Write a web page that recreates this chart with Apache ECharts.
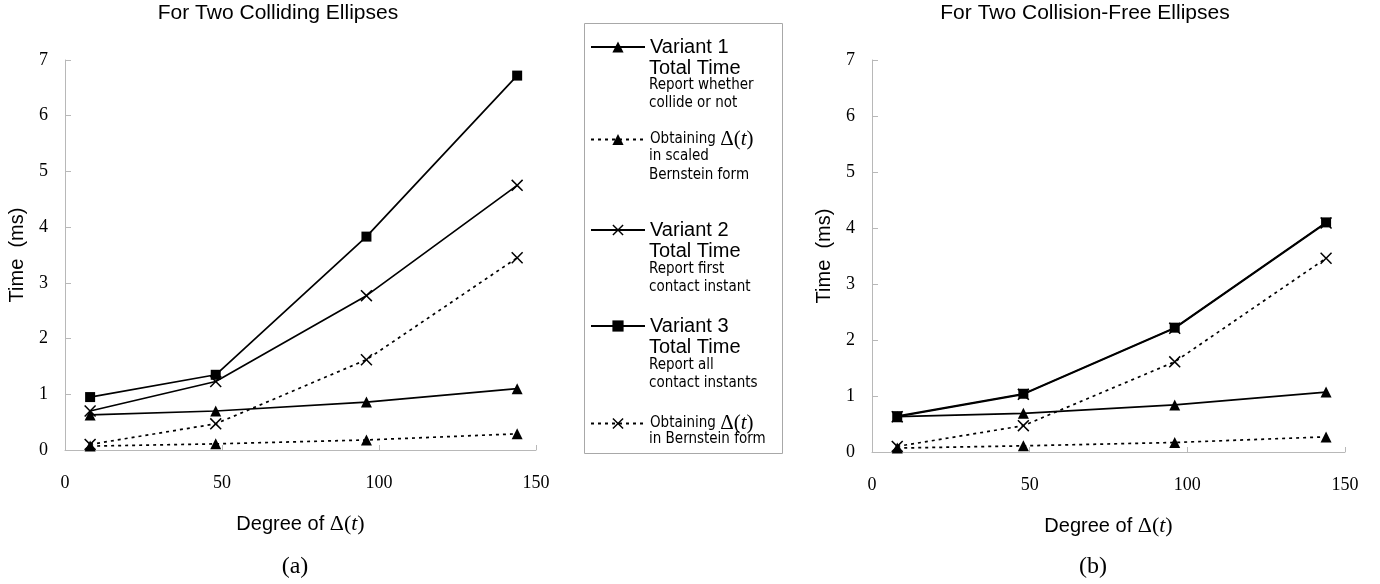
<!DOCTYPE html>
<html>
<head>
<meta charset="utf-8">
<script src="https://cdn.jsdelivr.net/npm/echarts@6/dist/echarts.min.js"></script>
<style>
html,body{margin:0;padding:0;background:#fff;}
#main{width:1380px;height:584px;}
</style>
</head>
<body>
<div id="main"></div>
<script>
// ---- data ----
const degrees = [8, 48, 96, 144];
const xTicks = [0, 50, 100, 150];
const yTicks = [0, 1, 2, 3, 4, 5, 6, 7];

// (a) colliding ellipses
const v1TotalA  = [0.63, 0.70, 0.86, 1.10];
const v1ScaledA = [0.07, 0.11, 0.18, 0.29];
const v2TotalA  = [0.70, 1.23, 2.77, 4.75];
const v3TotalA  = [0.95, 1.35, 3.83, 6.72];
const v2BernA   = [0.10, 0.47, 1.62, 3.45];

// (b) collision-free ellipses
const v1TotalB  = [0.63, 0.69, 0.84, 1.07];
const v1ScaledB = [0.07, 0.11, 0.17, 0.27];
const v2TotalB  = [0.63, 1.03, 2.21, 4.09];
const v3TotalB  = [0.64, 1.04, 2.22, 4.10];
const v2BernB   = [0.10, 0.47, 1.61, 3.46];

const seriesNames = [
  'Variant 1 Total Time',
  'Obtaining Δ(t) in scaled Bernstein form',
  'Variant 2 Total Time',
  'Variant 3 Total Time',
  'Obtaining Δ(t) in Bernstein form'
];
const legendFirstLines = {
  'Variant 1 Total Time': '{a|Variant 1}',
  'Obtaining Δ(t) in scaled Bernstein form': '{b|Obtaining }{d|Δ(}{t|t}{d|)}',
  'Variant 2 Total Time': '{a|Variant 2}',
  'Variant 3 Total Time': '{a|Variant 3}',
  'Obtaining Δ(t) in Bernstein form': '{b|Obtaining }{d|Δ(}{t|t}{d|)}'
};

// ---- styles ----
const SANS = "'Liberation Sans', Arial, Helvetica, sans-serif";
const NARROW = "'Liberation Sans Narrow', 'Arial Narrow', 'DejaVu Sans Condensed', sans-serif";
const SERIF = "'Liberation Serif', 'Times New Roman', serif";
const X_PATH = 'path://M0 9 L9 0 L50 41 L91 0 L100 9 L59 50 L100 91 L91 100 L50 59 L9 100 L0 91 L41 50 Z';

const markerDefs = [
  {symbol: 'triangle', size: 11, dash: 'solid'},
  {symbol: 'triangle', size: 11, dash: [3, 4]},
  {symbol: X_PATH, size: 12, dash: 'solid'},
  {symbol: 'rect', size: 10, dash: 'solid'},
  {symbol: X_PATH, size: 12, dash: [3, 4]}
];

function mkSeries(gridIdx, arrays) {
  return arrays.map((arr, i) => ({
    type: 'line',
    name: seriesNames[i],
    xAxisIndex: gridIdx,
    yAxisIndex: gridIdx,
    data: degrees.map((d, k) => [d, arr[k]]),
    symbol: markerDefs[i].symbol,
    symbolSize: markerDefs[i].size,
    showAllSymbol: true,
    lineStyle: {color: '#000', width: 1.7, type: markerDefs[i].dash},
    itemStyle: {color: '#000', borderWidth: 0},
    emphasis: {disabled: true},
    z: 2 + i
  }));
}

const mathRich = {
  a: {fontFamily: SANS, fontSize: 20, color: '#000', lineHeight: 24},
  d: {fontFamily: SERIF, fontSize: 22, color: '#000', lineHeight: 24},
  t: {fontFamily: SERIF, fontSize: 22, fontStyle: 'italic', color: '#000', lineHeight: 24}
};

function mkXAxis(gridIdx) {
  return {
    type: 'value', gridIndex: gridIdx, min: 0, max: 150, interval: 50,
    axisLine: {show: true, lineStyle: {color: '#b8b8b8', width: 1}},
    axisTick: {show: true, inside: true, length: 5, lineStyle: {color: '#b8b8b8'}},
    splitLine: {show: false},
    axisLabel: {fontFamily: SERIF, fontSize: 18, color: '#000', margin: 24,
      formatter: v => xTicks.includes(v) ? String(v) : ''},
    name: '{a|Degree of }{d|Δ(}{t|t}{d|)}',
    nameLocation: 'middle', nameGap: 62,
    nameTextStyle: {rich: mathRich}
  };
}
function mkYAxis(gridIdx) {
  return {
    type: 'value', gridIndex: gridIdx, min: 0, max: 7, interval: 1,
    axisLine: {show: true, lineStyle: {color: '#b8b8b8', width: 1}},
    axisTick: {show: true, inside: true, length: 6, lineStyle: {color: '#b8b8b8'}},
    splitLine: {show: false},
    axisLabel: {fontFamily: SERIF, fontSize: 18, color: '#000', margin: 17,
      formatter: v => yTicks.includes(v) ? String(v) : ''},
    name: 'Time  (ms)',
    nameLocation: 'middle', nameGap: 38,
    nameTextStyle: {fontFamily: SANS, fontSize: 20, color: '#000'}
  };
}

const legendTops = [37, 129, 220, 316, 413];
const legends = seriesNames.map((n, i) => ({
  data: [n],
  left: 590, top: legendTops[i],
  padding: 0,
  orient: 'vertical',
  itemWidth: 54, itemHeight: 14,
  selectedMode: false,
  formatter: name => legendFirstLines[name],
  textStyle: {
    rich: {
      a: {fontFamily: SANS, fontSize: 20, color: '#000', lineHeight: 22},
      b: {fontFamily: NARROW, fontSize: 15, color: '#000', lineHeight: 22},
      d: {fontFamily: SERIF, fontSize: 21, color: '#000', lineHeight: 22},
      t: {fontFamily: SERIF, fontSize: 21, fontStyle: 'italic', color: '#000', lineHeight: 22}
    }
  }
}));

const subLines = [
  ['Total Time', 68, 'big'], ['Report whether', 87, 'small'], ['collide or not', 105, 'small'],
  ['in scaled', 158, 'small'], ['Bernstein form', 177, 'small'],
  ['Total Time', 251, 'big'], ['Report first', 271, 'small'], ['contact instant', 289, 'small'],
  ['Total Time', 347, 'big'], ['Report all', 367, 'small'], ['contact instants', 385, 'small'],
  ['in Bernstein form', 441, 'small']
];

const graphics = [
  {type: 'rect', shape: {x: 584.5, y: 23.5, width: 198, height: 430},
   style: {fill: 'none', stroke: '#a8a8a8', lineWidth: 1}, silent: true}
].concat(subLines.map(s => ({
  type: 'text', left: 649, top: s[1] - (s[2] === 'big' ? 10 : 9), silent: true,
  style: {text: s[0], fill: '#000',
    font: s[2] === 'big' ? ('20px ' + SANS) : ('15px ' + NARROW)}
})));

const option = {
  animation: false,
  backgroundColor: '#fff',
  title: [
    {text: 'For Two Colliding Ellipses', left: 273, top: -2, textAlign: 'center',
     textStyle: {fontFamily: SANS, fontSize: 21, fontWeight: 'normal', color: '#000'}},
    {text: 'For Two Collision-Free Ellipses', left: 1080, top: -2, textAlign: 'center',
     textStyle: {fontFamily: SANS, fontSize: 21, fontWeight: 'normal', color: '#000'}},
    {text: '(a)', left: 290, top: 550, textAlign: 'center',
     textStyle: {fontFamily: SERIF, fontSize: 24, fontWeight: 'normal', color: '#000'}},
    {text: '(b)', left: 1088, top: 550, textAlign: 'center',
     textStyle: {fontFamily: SERIF, fontSize: 24, fontWeight: 'normal', color: '#000'}}
  ],
  legend: legends,
  grid: [
    {left: 65, top: 60, width: 471, height: 390},
    {left: 872, top: 60, width: 473, height: 392}
  ],
  xAxis: [mkXAxis(0), mkXAxis(1)],
  yAxis: [mkYAxis(0), mkYAxis(1)],
  series: mkSeries(0, [v1TotalA, v1ScaledA, v2TotalA, v3TotalA, v2BernA])
    .concat(mkSeries(1, [v1TotalB, v1ScaledB, v2TotalB, v3TotalB, v2BernB])),
  graphic: graphics
};

const chart = echarts.init(document.getElementById('main'), null, {renderer: 'canvas'});
chart.setOption(option);
</script>
</body>
</html>
